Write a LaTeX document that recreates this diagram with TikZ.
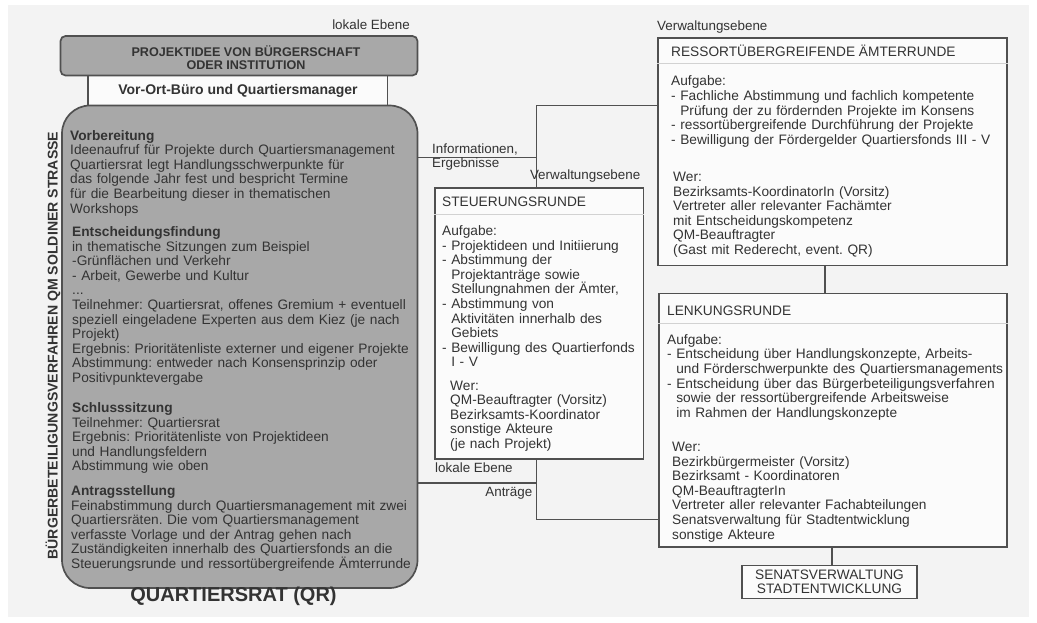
\documentclass[tikz,border=0pt]{standalone}
\usepackage{fontspec}
\setmainfont{Liberation Sans}
\usetikzlibrary{fit}
\frenchspacing

\definecolor{bggray}{HTML}{F3F3F3}
\definecolor{qrgray}{HTML}{A8A8A8}
\definecolor{linegray}{HTML}{505050}
\definecolor{textgray}{HTML}{333333}
\definecolor{headgray}{HTML}{D2D2D2}

\begin{document}
\begin{tikzpicture}[x=1pt,y=-1pt,
  panel/.style={draw=linegray,line width=1.7pt,fill=white!70!bggray,inner sep=0pt},
  graypanel/.style={draw=linegray,line width=1.7pt,fill=qrgray,inner sep=0pt},
  wire/.style={draw=linegray,line width=1.7pt},
  headline/.style={draw=headgray,line width=1.2pt},
  txt/.style={inner sep=0pt,text=textgray,font=\fontsize{13.7}{14.6}\selectfont},
  tag/.style={txt,font=\fontsize{13.4}{14}\selectfont},
  textblock/.style={txt,anchor=base west,align=left,text width=355pt}]

  %background
  \fill[white] (0,0) rectangle (1037,622);
  \fill[bggray] (8,5) rectangle (1029,617);
  \useasboundingbox (0,0) rectangle (1037,622);

  %quartiersrat
  \node[panel,fit={(88,75.5) (387.5,105.5)}] (vorort) {};
  \node[graypanel,rounded corners=5pt,fit={(60.5,36) (417.5,75.5)}] (idee) {};
  \node[graypanel,rounded corners=28pt,fit={(62,105.5) (417.5,588)}] (qr) {};

  \node[txt,font=\fontsize{12.6}{12.5}\selectfont\bfseries,align=center] (ideetext) at (246,57.5) {PROJEKTIDEE VON BÜRGERSCHAFT\\ODER INSTITUTION};
  \node[txt,font=\fontsize{14}{14}\selectfont\bfseries] (vorortText) at (238,91) {Vor-Ort-Büro und Quartiersmanager};
  \node[txt,font=\fontsize{14.1}{14}\selectfont\bfseries,rotate=90] (verfahren) at (53,345.5) {BÜRGERBETEILIGUNGSVERFAHREN QM SOLDINER STRASSE};

  \node[textblock] (vorb) at (70,140) {\textbf{Vorbereitung}\\Ideenaufruf für Projekte durch Quartiersmanagement\\Quartiersrat legt Handlungsschwerpunkte für\\das folgende Jahr fest und bespricht Termine\\für die Bearbeitung dieser in thematischen\\Workshops};
  \node[textblock] (entsch) at (72,236.5) {\textbf{Entscheidungsfindung}\\in thematische Sitzungen zum Beispiel\\-Grünflächen und Verkehr\\- Arbeit, Gewerbe und Kultur\\...\\Teilnehmer: Quartiersrat, offenes Gremium + eventuell\\speziell eingeladene Experten aus dem Kiez (je nach\\Projekt)\\Ergebnis: Prioritätenliste externer und eigener Projekte\\Abstimmung: entweder nach Konsensprinzip oder\\Positivpunktevergabe};
  \node[textblock] (schluss) at (72,412.5) {\textbf{Schlusssitzung}\\Teilnehmer: Quartiersrat\\Ergebnis: Prioritätenliste von Projektideen\\und Handlungsfeldern\\Abstimmung wie oben};
  \node[textblock] (antrag) at (71,495.5) {\textbf{Antragsstellung}\\Feinabstimmung durch Quartiersmanagement mit zwei\\Quartiersräten. Die vom Quartiersmanagement\\verfasste Vorlage und der Antrag gehen nach\\Zuständigkeiten innerhalb des Quartiersfonds an die\\Steuerungsrunde und ressortübergreifende Ämterrunde};

  \node[txt,font=\fontsize{20}{20}\selectfont\bfseries,anchor=base] (qrname) at (233.5,601) {QUARTIERSRAT (QR)};

  %verwaltung boxes
  \node[panel,fit={(658,37.7) (1007,265.5)}] (ressort) {};
  \node[panel,fit={(435,188) (643.5,459)}] (steuer) {};
  \node[panel,fit={(659,293.6) (1007,546.8)}] (lenk) {};
  \node[panel,fit={(742,565.5) (917,598.4)}] (senat) {};

  \draw[headline] ([shift={(0,26.3)}]ressort.north west) -- ([shift={(0,26.3)}]ressort.north east);
  \draw[headline] ([shift={(0,27)}]steuer.north west) -- ([shift={(0,27)}]steuer.north east);
  \draw[headline] ([shift={(0,30.4)}]lenk.north west) -- ([shift={(0,30.4)}]lenk.north east);

  %ressortuebergreifende aemterrunde
  \node[txt,anchor=base west] (ressortkopf) at (671,56) {RESSORTÜBERGREIFENDE ÄMTERRUNDE};
  \node[textblock] (ressortauf) at (671,85.8) {Aufgabe:\\- Fachliche Abstimmung und fachlich kompetente\\\hphantom{- }Prüfung der zu fördernden Projekte im Konsens\\- ressortübergreifende Durchführung der Projekte\\- Bewilligung der Fördergelder Quartiersfonds III - V};
  \node[textblock] (ressortwer) at (673,181.5) {Wer:\\Bezirksamts-KoordinatorIn (Vorsitz)\\Vertreter aller relevanter Fachämter\\mit Entscheidungskompetenz\\QM-Beauftragter\\(Gast mit Rederecht, event. QR)};

  %steuerungsrunde
  \node[txt,anchor=base west] (steuerkopf) at (442,206.7) {STEUERUNGSRUNDE};
  \node[textblock] (steuerauf) at (442,235.5) {Aufgabe:\\- Projektideen und Initiierung\\- Abstimmung der\\\hphantom{- }Projektanträge sowie\\\hphantom{- }Stellungnahmen der Ämter,\\- Abstimmung von\\\hphantom{- }Aktivitäten innerhalb des\\\hphantom{- }Gebiets\\- Bewilligung des Quartierfonds\\\hphantom{- }I - V};
  \node[textblock] (steuerwer) at (450,390) {Wer:\\QM-Beauftragter (Vorsitz)\\Bezirksamts-Koordinator\\sonstige Akteure\\(je nach Projekt)};

  %lenkungsrunde
  \node[txt,anchor=base west] (lenkkopf) at (667,315) {LENKUNGSRUNDE};
  \node[textblock] (lenkauf) at (667,344.2) {Aufgabe:\\- Entscheidung über Handlungskonzepte, Arbeits-\\\hphantom{- }und Förderschwerpunkte des Quartiersmanagements\\- Entscheidung über das Bürgerbeteiligungsverfahren\\\hphantom{- }sowie der ressortübergreifende Arbeitsweise\\\hphantom{- }im Rahmen der Handlungskonzepte};
  \node[textblock] (lenkwer) at (672,451.5) {Wer:\\Bezirkbürgermeister (Vorsitz)\\Bezirksamt - Koordinatoren\\QM-BeauftragterIn\\Vertreter aller relevanter Fachabteilungen\\Senatsverwaltung für Stadtentwicklung\\sonstige Akteure};

  %senat
  \node[txt,align=center] (senattext) at (senat) {SENATSVERWALTUNG\\STADTENTWICKLUNG};

  %connectors
  \coordinate (jtop) at (536.5,105.5);
  \coordinate (jinfo) at (536.5,157.5);
  \coordinate (jlow) at (536.5,483.3);
  \coordinate (jbot) at (536.5,519.5);

  \draw[wire] (ressort.west |- jtop) -- (jtop) -- (jtop |- steuer.north);
  \draw[wire] (qr.east |- jinfo) -- (jinfo);
  \draw[wire] (qr.east |- jlow) -- (jlow);
  \draw[wire] (steuer.south -| jbot) -- (jbot) -- (jbot -| lenk.west);
  \draw[wire] ([xshift=-7.5pt]ressort.south) -- ([xshift=-7.5pt]ressort.south |- lenk.north);
  \draw[wire] ([xshift=-1pt]lenk.south) -- ([xshift=-1pt]lenk.south |- senat.north);

  %labels
  \node[tag] (lokaloben) at (371,25) {lokale Ebene};
  \node[tag,anchor=west] (verwoben) at (657,27) {Verwaltungsebene};
  \node[tag,anchor=west,align=left] (info) at (432,157) {Informationen,\\Ergebnisse};
  \node[tag,anchor=east] (verwmitte) at (640.5,176) {Verwaltungsebene};
  \node[tag,anchor=west] (lokalunten) at (435,467.5) {lokale Ebene};
  \node[tag,anchor=east] (antraege) at (532.5,492.8) {Anträge};

\end{tikzpicture}
\end{document}
